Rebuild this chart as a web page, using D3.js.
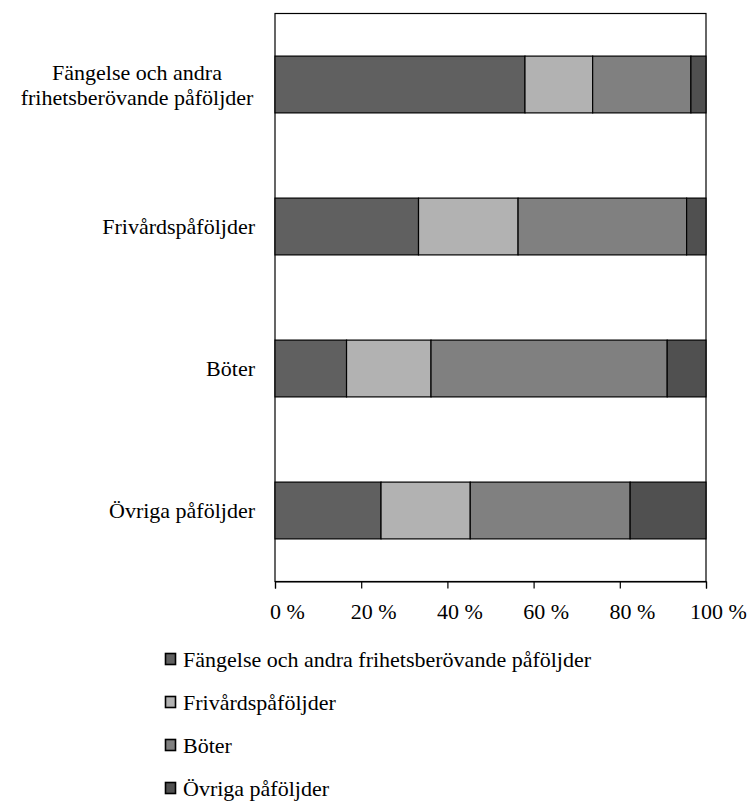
<!DOCTYPE html>
<html><head><meta charset="utf-8">
<script src="https://cdn.jsdelivr.net/npm/d3@7"></script>
<style>body{margin:0;background:#fff}svg{display:block}text{font-family:"Liberation Serif","Times New Roman",serif;fill:#000}</style>
</head><body><svg id="c" width="749" height="801"></svg>
<script>
const categories = [["Fängelse och andra","frihetsberövande påföljder"],["Frivårdspåföljder"],["Böter"],["Övriga påföljder"]];
const seriesNames = ["Fängelse och andra frihetsberövande påföljder","Frivårdspåföljder","Böter","Övriga påföljder"];
const fangelse = [58.0, 33.3, 16.6, 24.6];
const frivard = [15.7, 23.1, 19.6, 20.7];
const boter = [22.8, 39.1, 54.8, 37.1];
const ovriga = [3.5, 4.5, 9.0, 17.6];
const tickValues = [0, 20, 40, 60, 80, 100];
const tickLabels = ["0 %", "20 %", "40 %", "60 %", "80 %", "100 %"];
const colors = ["#606060", "#b2b2b2", "#808080", "#505050"];

const svg = d3.select("#c");
const L = 275, R = 706, T = 13.5, B = 581.5;
const fs = 22;
const x = d3.scaleLinear().domain([0, 100]).range([L, R]);
const y = d3.scaleBand().domain(d3.range(categories.length)).range([T, B]).paddingInner(0.6).paddingOuter(0.3);

const seriesVals = [fangelse, frivard, boter, ovriga];
const rows = categories.map((c, i) => {
  const r = {}; seriesVals.forEach((s, k) => r["s" + k] = s[i]); return r;
});
const stack = d3.stack().keys(seriesVals.map((s, k) => "s" + k))(rows);

// plot border
svg.append("rect").attr("x", L).attr("y", T).attr("width", R - L).attr("height", B - T)
  .attr("fill", "none").attr("stroke", "#000").attr("stroke-width", 1.2);

stack.forEach((layer, k) => {
  svg.append("g").selectAll("rect").data(layer).join("rect")
    .attr("x", d => x(d[0])).attr("width", d => x(d[1]) - x(d[0]))
    .attr("y", (d, i) => y(i)).attr("height", y.bandwidth())
    .attr("fill", colors[k]).attr("stroke", "#000").attr("stroke-width", 1.2);
});

// x axis
const xa = svg.append("g").attr("transform", `translate(0,${B})`)
  .call(d3.axisBottom(x).tickValues(tickValues).tickSize(7).tickFormat((d, i) => tickLabels[i]));
xa.select(".domain").attr("stroke", "#000").attr("stroke-width", 1.2);
xa.selectAll(".tick line").attr("stroke", "#000").attr("stroke-width", 1.2);
xa.selectAll(".tick text").attr("font-family", '"Liberation Serif",serif').attr("font-size", fs)
  .attr("dx", 12).attr("y", 22).attr("dy", "0.71em").attr("fill", "#000");

// y labels
categories.forEach((lines, i) => {
  const cy = y(i) + y.bandwidth() / 2;
  const lh = 25;
  const t = svg.append("text").attr("font-size", fs)
    .attr("text-anchor", lines.length > 1 ? "middle" : "end");
  lines.forEach((ln, j) => {
    t.append("tspan").attr("x", lines.length > 1 ? 137 : 255)
      .attr("y", cy + (j - (lines.length - 1) / 2) * lh).attr("dy", "0.35em").text(ln);
  });
});

// legend
const lg = svg.append("g");
seriesNames.forEach((n, k) => {
  const cy = 659 + k * 43;
  lg.append("rect").attr("x", 165.5).attr("y", cy - 5.5).attr("width", 10).attr("height", 11)
    .attr("fill", colors[k]).attr("stroke", "#000").attr("stroke-width", 1.6);
  lg.append("text").attr("x", 183).attr("y", cy).attr("dy", "0.35em").attr("font-size", fs).text(n);
});
</script></body></html>
